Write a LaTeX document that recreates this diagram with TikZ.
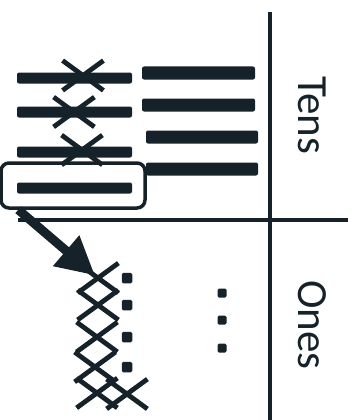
\documentclass[tikz,border=0pt]{standalone}
\usepackage{fontspec}
\setmainfont{Carlito}
\usetikzlibrary{arrows.meta,shapes.misc}
\definecolor{inkcol}{RGB}{22,34,42}
\tikzset{
  rod/.style={rectangle, fill=inkcol, inner sep=0pt, minimum height=11pt, rounded corners=2pt},
  xmark/.style={cross out, draw=inkcol, line width=4.8pt, inner sep=0pt, minimum width=36pt, minimum height=25pt},
  unit/.style={rectangle, fill=inkcol, inner sep=0pt, minimum size=10.5pt, rounded corners=1.5pt},
  colname/.style={rotate=-90, text=inkcol, font=\fontsize{43}{46}\selectfont},
}
\begin{document}
\begin{tikzpicture}[x=1pt, y=-1pt, >=Triangle]
  \useasboundingbox (0,0) rectangle (355,420);
  % place value chart
  \draw[line width=4.5pt, inkcol] (270,12) -- (270,420);
  \draw[line width=4.5pt, inkcol] (18,220) -- (348,220);
  \node[colname] (tens) at (312,115) {Tens};
  \node[colname] (ones) at (312,325) {Ones};
  % tens rods, left column
  \node[rod, minimum width=115pt] (a1) at (74.5,78) {};
  \node[rod, minimum width=115pt] (a2) at (74.5,112) {};
  \node[rod, minimum width=115pt] (a3) at (74.5,152) {};
  \node[rod, minimum width=115pt] (a4) at (74.5,188) {};
  % tens rods, right column
  \node[rod, minimum width=113pt, minimum height=13pt] (b1) at (198.5,73) {};
  \node[rod, minimum width=113pt, minimum height=13pt] (b2) at (198.5,105) {};
  \node[rod, minimum width=112pt, minimum height=13pt] (b3) at (202,137) {};
  \node[rod, minimum width=112pt, minimum height=13pt] (b4) at (202,169) {};
  % crossed out rods
  \node[xmark] (c1) at (83,75.5) {};
  \node[xmark] (c2) at (74,112) {};
  \node[xmark] (c3) at (82,150) {};
  % rod being traded
  \node[draw=inkcol, line width=3.5pt, rounded corners=8pt, minimum width=144pt, minimum height=45pt, inner sep=0pt] (tenbox) at (73,185.5) {};
  % ones
  \node[xmark] (o1) at (98,278) {};
  \node[xmark] (o2) at (98,305) {};
  \node[xmark] (o3) at (97,337) {};
  \node[xmark] (o4) at (95,367) {};
  \node[xmark] (o5) at (97,393) {};
  \node[xmark] (o6) at (127,394) {};
  \node[unit] (d1) at (127,278) {};
  \node[unit] (d2) at (127,305) {};
  \node[unit] (d3) at (127,337) {};
  \node[unit] (d4) at (127,367) {};
  \node[unit, minimum size=9pt] (e1) at (222,293) {};
  \node[unit, minimum size=9pt] (e2) at (222,320) {};
  \node[unit, minimum size=9pt] (e3) at (222,348) {};
  % trade arrow
  \draw[->, line width=9pt, inkcol, arrows={-Triangle[length=38pt, width=38pt]}, shorten >=4pt]
    ([xshift=19pt]tenbox.south west) -- (o1.center);
\end{tikzpicture}
\end{document}
